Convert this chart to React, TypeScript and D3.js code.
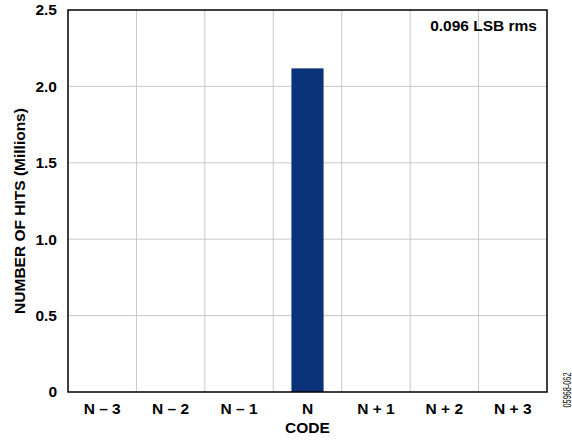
import React from "react";
import * as d3 from "d3";

const categories = ["N – 3", "N – 2", "N – 1", "N", "N + 1", "N + 2", "N + 3"];
const hits = [0, 0, 0, 2.118, 0, 0, 0];
const yTicks = [0, 0.5, 1.0, 1.5, 2.0, 2.5];
const yTickLabels = ["0", "0.5", "1.0", "1.5", "2.0", "2.5"];

const W = 572, H = 440;
const M = { left: 68, right: 25, top: 10, bottom: 48 };

export default function App() {
  const x = d3.scaleBand<string>().domain(categories).range([M.left, W - M.right]).paddingInner(0).paddingOuter(0);
  const y = d3.scaleLinear().domain([0, 2.5]).range([H - M.bottom, M.top]);
  const bw = x.bandwidth() * 0.47;
  const font = "'Liberation Sans', Arial, sans-serif";
  const fs = 15.5;
  return (
    <svg width={W} height={H} style={{ position: "absolute", left: 0, top: 0 }} fontFamily={font}>
      <rect x={0} y={0} width={W} height={H} fill="#fff" />
      {categories.slice(1).map((c) => (
        <line key={c} x1={x(c)!} x2={x(c)!} y1={y(0)} y2={y(2.5)} stroke="#c8c8c8" strokeWidth={1} />
      ))}
      {yTicks.slice(1, -1).map((t) => (
        <line key={t} x1={M.left} x2={W - M.right} y1={y(t)} y2={y(t)} stroke="#c8c8c8" strokeWidth={1} />
      ))}
      {categories.map((c, i) =>
        hits[i] > 0 ? (
          <rect key={c} x={x(c)! + (x.bandwidth() - bw) / 2} y={y(hits[i])} width={bw} height={y(0) - y(hits[i])} fill="#0a3278" />
        ) : null
      )}
      <rect x={M.left} y={M.top} width={W - M.right - M.left} height={y(0) - M.top} fill="none" stroke="#000" strokeWidth={1.5} />
      {yTicks.map((t, i) => (
        <text key={t} x={57} y={y(t)} dy="0.35em" textAnchor="end" fontSize={fs} fontWeight="bold">{yTickLabels[i]}</text>
      ))}
      {categories.map((c) => (
        <text key={c} x={x(c)! + x.bandwidth() / 2} y={414} textAnchor="middle" fontSize={fs} fontWeight="bold">{c}</text>
      ))}
      <text x={x("N")! + x.bandwidth() / 2} y={433} textAnchor="middle" fontSize={fs} fontWeight="bold">CODE</text>
      <text transform={`translate(24.5, 211) rotate(-90)`} textAnchor="middle" fontSize={fs} fontWeight="bold">NUMBER OF HITS (Millions)</text>
      <text x={537} y={31} textAnchor="end" fontSize={fs} fontWeight="bold">0.096 LSB rms</text>
      <text transform={`translate(571, 390) rotate(-90)`} textAnchor="middle" fontSize={10} textLength={35} lengthAdjust="spacingAndGlyphs">05968-062</text>
    </svg>
  );
}
